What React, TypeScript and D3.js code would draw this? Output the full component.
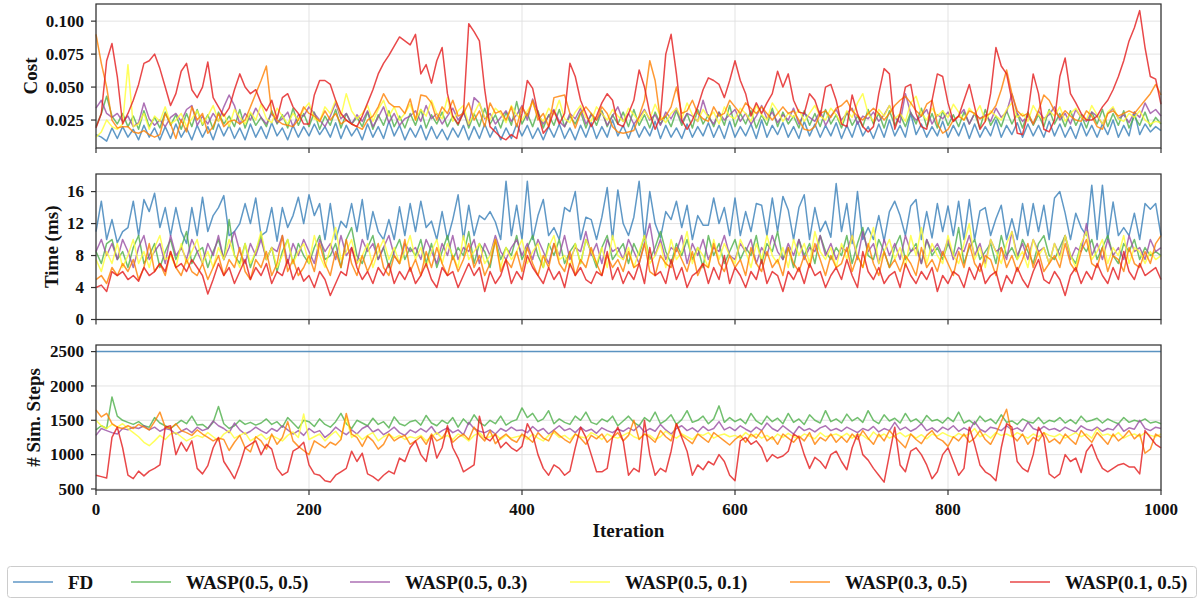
import React from "react";
import * as d3 from "d3";

const iterations = d3.range(0, 1001, 5);
const xTicks = [0, 200, 400, 600, 800, 1000];
const costTicks = [0.025, 0.05, 0.075, 0.1];
const timeTicks = [0, 4, 8, 12, 16];
const stepTicks = [500, 1000, 1500, 2000, 2500];

const seriesNames = ["FD", "WASP(0.5, 0.5)", "WASP(0.5, 0.3)", "WASP(0.5, 0.1)", "WASP(0.3, 0.5)", "WASP(0.1, 0.5)"];
const seriesColors = ["#377eb8", "#4daf4a", "#984ea3", "#ffff33", "#ff7f00", "#e41a1c"];

// ---------- Cost ----------
const costFD = [
  .014,.012,.009,.019,.011,.020,.012,.018,.010,.021,.012,.019,.010,.020,.011,.022,.012,.019,.010,.021,
  .012,.020,.010,.022,.013,.021,.011,.019,.010,.022,.012,.020,.011,.023,.013,.019,.010,.021,.012,.020,
  .013,.022,.014,.020,.012,.023,.011,.021,.013,.019,.010,.022,.012,.020,.011,.024,.013,.021,.010,.019,
  .012,.021,.010,.020,.011,.018,.010,.019,.012,.021,.010,.020,.011,.022,.012,.020,.010,.019,.011,.022,
  .013,.021,.011,.019,.010,.020,.012,.022,.011,.019,.010,.021,.012,.023,.011,.020,.012,.025,.013,.021,
  .011,.022,.012,.020,.013,.024,.011,.021,.012,.019,.011,.022,.012,.020,.013,.023,.012,.021,.011,.024,
  .012,.020,.013,.022,.011,.025,.012,.021,.014,.023,.012,.020,.011,.024,.013,.022,.012,.021,.013,.023,
  .011,.021,.012,.024,.013,.020,.011,.022,.012,.025,.013,.021,.012,.030,.014,.022,.012,.020,.013,.024,
  .012,.021,.013,.023,.011,.022,.012,.020,.013,.025,.012,.021,.014,.023,.012,.022,.013,.021,.012,.024,
  .013,.022,.012,.020,.011,.023,.013,.021,.012,.022,.014,.025,.012,.021,.013,.031,.014,.022,.016,.020,
  .017];
const costW55 = [
  .020,.030,.043,.028,.022,.030,.020,.028,.018,.032,.020,.027,.019,.031,.021,.029,.018,.030,.020,.033,
  .021,.029,.018,.031,.022,.028,.020,.033,.019,.030,.021,.027,.020,.032,.022,.029,.019,.034,.021,.030,
  .020,.031,.018,.028,.021,.033,.019,.030,.022,.027,.020,.031,.018,.029,.021,.032,.020,.028,.019,.030,
  .021,.033,.019,.029,.022,.031,.020,.028,.021,.032,.019,.030,.020,.034,.022,.029,.019,.031,.021,.039,
  .022,.030,.020,.032,.019,.029,.021,.033,.020,.028,.022,.031,.019,.030,.021,.032,.020,.029,.022,.031,
  .020,.033,.021,.029,.019,.031,.022,.028,.020,.032,.021,.030,.019,.033,.022,.029,.020,.031,.021,.036,
  .020,.030,.022,.032,.019,.029,.021,.034,.020,.031,.022,.028,.019,.032,.021,.030,.020,.033,.022,.029,
  .019,.031,.021,.028,.020,.033,.022,.030,.019,.032,.021,.029,.020,.031,.022,.034,.020,.030,.019,.032,
  .021,.029,.020,.031,.022,.030,.019,.033,.021,.028,.020,.032,.022,.030,.019,.031,.021,.029,.020,.033,
  .022,.030,.020,.032,.021,.029,.019,.031,.022,.033,.020,.030,.021,.032,.019,.028,.021,.031,.020,.027,
  .022];
const costW53 = [
  .034,.040,.030,.027,.030,.024,.028,.020,.023,.038,.026,.021,.025,.020,.027,.030,.024,.033,.036,.021,
  .028,.022,.030,.024,.035,.044,.036,.022,.030,.025,.034,.027,.022,.030,.023,.026,.031,.020,.029,.028,
  .035,.030,.025,.020,.028,.038,.026,.030,.022,.029,.024,.032,.020,.027,.035,.023,.030,.021,.026,.028,
  .032,.024,.036,.026,.030,.022,.028,.034,.025,.031,.021,.042,.038,.026,.030,.022,.027,.032,.024,.029,
  .036,.025,.041,.030,.022,.028,.033,.024,.020,.030,.026,.034,.022,.029,.025,.031,.021,.028,.035,.024,
  .030,.022,.027,.033,.025,.029,.021,.031,.026,.034,.023,.030,.028,.024,.040,.027,.022,.031,.025,.029,
  .033,.024,.030,.022,.028,.036,.026,.031,.023,.029,.025,.034,.022,.030,.027,.024,.032,.021,.028,.033,
  .025,.030,.034,.022,.028,.026,.031,.024,.029,.036,.027,.023,.045,.030,.025,.028,.033,.022,.029,.026,
  .031,.024,.028,.033,.022,.030,.026,.029,.024,.034,.027,.031,.045,.030,.024,.028,.022,.032,.026,.029,
  .035,.025,.030,.022,.033,.027,.024,.031,.028,.022,.030,.034,.026,.029,.023,.031,.027,.038,.030,.033,
  .028];
const costW51 = [
  .012,.016,.025,.020,.018,.022,.067,.020,.022,.030,.018,.028,.024,.035,.022,.025,.030,.020,.026,.032,
  .022,.028,.036,.024,.030,.020,.033,.027,.022,.031,.025,.037,.026,.023,.034,.028,.022,.030,.025,.033,
  .038,.026,.024,.035,.030,.040,.028,.045,.032,.026,.030,.036,.024,.033,.040,.028,.035,.025,.030,.037,
  .025,.033,.028,.040,.030,.026,.042,.024,.032,.036,.022,.030,.038,.027,.025,.034,.030,.023,.036,.029,
  .025,.032,.038,.028,.024,.034,.029,.040,.026,.023,.031,.036,.027,.024,.035,.030,.025,.033,.028,.024,
  .034,.029,.024,.032,.026,.037,.028,.023,.030,.034,.026,.038,.029,.024,.033,.027,.031,.022,.035,.028,
  .026,.034,.030,.024,.036,.029,.025,.038,.032,.024,.030,.027,.033,.024,.030,.036,.028,.025,.034,.029,
  .022,.032,.027,.038,.045,.030,.024,.033,.028,.036,.026,.030,.024,.038,.043,.030,.025,.034,.028,.032,
  .027,.037,.031,.025,.034,.029,.036,.024,.032,.028,.025,.033,.038,.027,.030,.024,.036,.029,.025,.032,
  .028,.035,.024,.030,.034,.027,.025,.036,.029,.022,.031,.035,.026,.024,.030,.027,.032,.025,.022,.024,
  .023];
const costW35 = [
  .090,.068,.050,.025,.019,.020,.020,.016,.015,.017,.014,.012,.014,.030,.022,.011,.025,.016,.035,.025,
  .030,.015,.020,.030,.020,.024,.025,.022,.025,.035,.045,.055,.066,.030,.025,.022,.021,.020,.025,.035,
  .030,.028,.024,.032,.025,.030,.022,.025,.022,.020,.018,.025,.028,.035,.045,.038,.035,.035,.030,.041,
  .025,.044,.043,.038,.025,.035,.030,.040,.028,.030,.038,.025,.032,.020,.038,.030,.032,.025,.035,.020,
  .035,.028,.040,.025,.030,.020,.042,.043,.044,.030,.019,.030,.035,.030,.025,.035,.030,.020,.016,.015,
  .016,.017,.028,.040,.070,.055,.025,.028,.035,.050,.030,.032,.040,.030,.026,.024,.035,.028,.030,.040,
  .035,.030,.038,.034,.030,.035,.030,.025,.030,.035,.030,.032,.025,.018,.017,.020,.030,.032,.027,.034,
  .036,.040,.032,.028,.025,.030,.034,.030,.025,.030,.036,.040,.043,.038,.032,.028,.037,.040,.022,.015,
  .018,.025,.028,.025,.032,.030,.026,.028,.030,.036,.048,.063,.045,.032,.028,.030,.022,.032,.044,.040,
  .032,.027,.032,.028,.025,.024,.032,.028,.020,.018,.030,.032,.028,.030,.032,.030,.035,.040,.045,.052,
  .044];
const costW15 = [
  .019,.030,.070,.083,.058,.022,.030,.040,.052,.068,.070,.075,.064,.050,.036,.045,.062,.068,.048,.042,
  .050,.069,.042,.035,.028,.034,.048,.060,.050,.045,.048,.038,.032,.040,.026,.042,.045,.035,.030,.022,
  .022,.044,.055,.055,.052,.040,.030,.025,.022,.020,.028,.038,.048,.060,.068,.074,.081,.088,.085,.082,
  .090,.060,.067,.053,.070,.080,.045,.028,.022,.030,.098,.092,.085,.048,.020,.016,.012,.010,.014,.011,
  .030,.055,.049,.030,.015,.020,.032,.022,.030,.068,.058,.040,.030,.020,.028,.038,.045,.040,.022,.020,
  .030,.040,.063,.050,.030,.018,.028,.075,.090,.060,.025,.018,.025,.035,.048,.057,.055,.052,.042,.055,
  .070,.055,.045,.028,.038,.030,.038,.045,.062,.050,.060,.040,.031,.030,.045,.040,.028,.050,.052,.040,
  .022,.020,.044,.030,.020,.016,.020,.045,.064,.060,.018,.030,.050,.052,.030,.020,.018,.040,.060,.058,
  .038,.024,.028,.040,.052,.035,.018,.024,.045,.080,.066,.060,.040,.015,.014,.030,.060,.045,.018,.016,
  .025,.058,.072,.045,.038,.030,.025,.025,.028,.035,.040,.048,.058,.070,.085,.095,.108,.080,.058,.056,
  .037];

// ---------- Time (ms) ----------
const timeFD = [
  11.0,14.8,10.0,12.5,9.6,11.0,11.5,14.8,10.5,15.0,13.5,15.8,11.5,14.0,10.5,14.0,11.0,9.5,14.0,10.5,
  15.3,11.0,13.0,14.0,15.5,10.5,11.0,12.0,14.5,12.0,15.2,10.5,11.0,14.0,9.8,14.0,11.5,13.0,15.3,12.0,
  15.6,13.0,14.5,10.0,14.5,10.0,12.3,11.5,14.5,11.0,15.0,10.0,13.5,11.0,10.0,12.5,10.0,14.1,10.5,14.5,
  11.0,14.8,11.5,12.3,10.0,13.5,10.0,12.5,15.6,10.0,14.3,10.5,13.0,12.5,13.5,12.2,10.0,17.3,10.5,14.3,
  10.0,17.3,10.0,13.0,15.0,10.5,11.5,10.0,14.0,13.5,16.0,10.0,12.8,12.5,10.0,12.8,16.5,10.0,16.2,12.0,
  10.5,12.8,17.3,10.0,16.0,12.0,10.2,13.5,12.5,14.8,11.5,14.3,10.0,13.0,11.8,11.8,15.2,12.0,14.0,10.5,
  15.2,10.5,13.5,11.0,14.5,14.3,10.5,15.2,11.0,15.4,13.7,10.0,14.0,15.6,10.0,14.0,11.0,12.3,10.3,17.0,
  11.0,14.5,9.5,16.0,10.0,11.5,10.0,13.0,9.8,13.5,14.8,13.0,10.5,14.2,15.0,10.0,13.5,10.2,14.5,11.0,
  14.2,10.5,14.8,10.0,15.0,10.0,13.6,14.0,10.5,12.6,14.3,10.0,12.6,10.0,14.5,10.5,14.5,11.0,14.3,10.0,
  15.2,16.0,13.3,10.0,13.3,11.5,10.5,16.8,10.0,16.8,10.0,14.7,10.5,11.5,10.5,13.3,10.0,14.5,13.8,14.5,
  10.5];
const timeW55 = [
  8.5,7.0,9.5,10.0,7.5,8.5,6.5,9.0,10.5,7.0,8.0,9.5,6.5,8.5,10.0,7.5,9.0,11.0,7.0,8.5,
  9.0,6.5,8.5,10.0,7.5,12.5,8.0,7.0,9.5,6.5,8.5,10.5,7.5,9.0,6.0,8.5,10.0,7.0,9.5,8.0,
  7.0,9.0,10.5,7.5,8.0,9.5,6.5,10.0,11.5,8.0,7.0,9.0,10.5,7.5,9.0,6.5,8.5,10.0,7.5,9.0,
  8.0,10.0,7.0,9.5,6.5,8.5,10.5,7.5,9.0,8.0,11.0,7.0,9.5,8.5,6.5,10.0,7.5,9.0,8.0,10.5,
  7.5,9.0,10.5,8.0,6.5,9.5,8.0,10.0,7.0,8.5,9.5,7.0,10.0,8.5,6.5,9.0,10.5,7.5,8.5,9.5,
  7.0,9.5,8.0,10.5,7.5,9.0,11.0,8.5,7.0,9.5,8.0,10.0,7.5,9.0,6.5,10.5,8.0,9.5,7.0,8.5,
  10.0,7.5,9.0,8.0,10.5,7.0,9.5,8.5,11.0,7.5,9.0,6.5,10.0,8.0,9.5,7.0,10.5,8.5,7.5,9.0,
  8.0,10.5,7.0,9.5,11.5,8.0,7.5,10.0,8.5,6.5,9.0,10.5,7.5,8.5,9.5,7.0,10.0,8.0,9.0,7.5,
  9.5,8.0,11.5,7.0,9.0,10.0,7.5,8.5,9.5,7.0,10.5,8.0,9.0,7.5,10.0,8.5,7.0,9.5,10.5,8.0,
  7.5,9.0,10.5,8.0,7.0,9.5,8.5,10.0,7.5,9.0,10.5,8.0,7.0,9.5,8.5,10.0,7.5,9.0,8.0,8.5,
  8.0];
const timeW53 = [
  8.5,10.0,8.0,9.5,7.5,10.0,8.5,6.5,9.0,10.5,7.5,8.5,9.5,7.0,10.5,8.0,9.0,7.5,10.0,8.5,
  7.0,9.5,8.0,10.5,7.5,9.0,11.0,8.5,7.0,9.5,8.0,10.0,7.5,9.0,8.5,10.5,7.0,9.5,8.0,10.0,
  8.5,7.0,10.0,8.5,9.5,7.5,10.5,8.0,9.0,7.0,10.0,8.5,9.5,7.5,9.0,10.5,8.0,7.0,9.5,8.5,
  9.0,7.5,10.0,8.5,7.0,9.5,8.0,10.5,7.5,9.0,8.5,10.0,7.0,9.5,8.0,10.5,8.5,7.5,9.0,10.0,
  8.0,9.5,7.5,10.0,8.5,7.0,9.5,8.0,10.5,7.5,9.0,8.5,11.0,8.0,9.5,7.0,10.0,8.5,9.0,7.5,
  10.0,8.5,7.0,9.5,12.0,8.0,10.0,7.5,9.0,8.5,10.5,7.0,9.5,8.0,10.0,7.5,9.0,8.5,10.5,8.0,
  7.5,9.5,8.5,10.0,7.0,9.0,8.0,10.5,8.5,7.5,9.5,8.0,10.0,7.5,9.0,8.5,10.5,8.0,9.5,7.5,
  9.0,8.5,10.5,7.5,11.0,8.5,9.5,7.0,10.0,8.0,9.5,7.5,10.5,8.5,9.0,7.0,10.0,8.5,9.5,8.0,
  10.0,7.5,9.0,8.5,10.5,8.0,9.5,7.0,10.0,8.5,9.0,7.5,11.0,8.0,9.5,7.5,10.0,8.5,9.0,7.0,
  9.5,8.0,10.5,7.5,9.0,8.5,12.0,8.0,9.5,7.5,10.0,8.0,9.0,7.5,10.5,8.5,9.0,7.5,10.0,8.5,
  9.0];
const timeW51 = [
  7.5,6.0,8.5,7.0,9.5,6.5,8.0,10.0,7.0,8.5,6.5,9.0,10.5,7.5,8.0,6.5,9.5,7.0,8.5,10.0,
  7.0,8.5,6.5,9.0,7.5,10.0,8.0,6.5,9.5,7.0,8.5,11.0,7.5,9.0,6.5,8.0,10.0,7.0,8.5,9.5,
  7.0,10.5,8.0,6.5,9.0,11.5,7.5,8.5,10.0,7.0,8.0,9.5,6.5,8.5,10.0,7.5,9.0,7.0,8.5,10.5,
  7.5,9.0,6.5,8.5,10.0,7.0,9.5,8.0,6.5,10.5,7.5,8.5,9.5,7.0,8.0,10.0,6.5,9.0,7.5,8.5,
  10.0,7.0,8.5,9.5,6.5,9.0,10.5,7.5,8.0,6.5,9.5,7.0,10.0,8.5,7.0,9.0,6.5,10.5,8.0,7.5,
  9.0,6.5,8.5,10.5,7.0,8.0,9.5,6.5,10.0,7.5,8.5,11.0,7.0,9.0,8.0,6.5,10.0,7.5,9.5,8.0,
  7.0,10.0,8.5,6.5,9.5,7.5,10.5,8.0,7.0,9.0,6.5,10.0,8.0,9.5,7.0,11.0,8.5,7.5,9.0,6.5,
  9.5,7.5,10.5,8.0,6.5,9.0,11.5,7.0,8.5,10.0,7.5,9.0,6.5,10.5,8.0,11.5,7.0,9.5,8.0,7.0,
  10.5,8.0,7.0,9.5,12.0,7.5,9.0,6.5,10.0,8.5,7.0,9.5,11.0,7.5,8.5,6.5,10.0,8.0,9.0,7.0,
  9.5,7.5,10.5,8.0,6.5,9.5,11.0,7.5,8.5,10.0,7.0,9.0,8.0,10.5,7.0,9.0,8.5,7.0,8.5,7.5,
  8.0];
const timeW35 = [
  5.0,5.5,4.5,6.5,5.5,7.0,6.0,7.5,5.0,6.5,9.5,6.0,7.0,5.5,8.5,6.5,5.5,7.5,6.0,5.5,
  7.0,5.0,6.5,8.0,5.5,7.5,6.5,9.0,6.0,5.0,7.5,6.5,8.5,5.5,7.0,10.5,6.0,7.5,5.5,6.5,
  8.0,6.0,9.5,7.0,5.5,8.5,6.5,10.0,7.0,5.5,8.0,6.0,7.5,9.5,6.5,5.5,8.0,7.0,10.0,6.0,
  7.5,5.5,8.5,6.5,9.0,7.0,5.5,8.0,6.0,7.5,9.5,6.5,8.0,5.5,7.0,10.0,6.0,7.5,6.5,8.5,
  6.0,9.0,7.0,5.5,8.0,6.5,9.5,7.0,6.0,8.5,5.5,7.5,6.5,9.0,7.0,5.5,8.0,6.5,7.5,6.0,
  8.5,6.5,7.0,9.5,6.0,5.5,8.0,7.0,6.5,9.0,7.5,6.0,8.5,5.5,7.0,6.5,9.5,7.0,6.0,8.0,
  6.5,7.5,5.5,9.0,7.0,6.0,8.5,6.5,7.5,5.5,9.0,7.0,6.0,8.0,6.5,9.5,7.5,5.5,8.0,6.5,
  7.0,9.0,6.0,8.0,6.5,9.5,7.0,5.5,8.5,6.5,7.5,6.0,8.0,7.0,5.5,9.0,6.5,7.5,6.0,8.5,
  7.0,5.5,8.5,6.5,9.5,7.0,6.0,8.0,7.5,5.5,9.0,6.5,8.0,6.0,7.5,9.5,6.5,8.5,6.0,7.0,
  8.0,6.5,9.5,7.0,6.0,8.5,10.0,7.0,6.5,9.0,6.0,8.0,7.5,6.0,9.0,7.0,6.5,8.5,7.0,9.5,
  10.5];
const timeW15 = [
  4.0,4.3,3.5,6.0,5.5,6.0,5.0,5.5,4.8,6.5,5.5,6.0,7.0,6.0,8.5,6.5,7.0,6.0,7.5,6.5,
  5.5,3.2,5.0,7.0,5.5,6.5,4.5,6.0,7.5,5.0,6.5,5.5,7.0,4.5,6.0,5.5,7.5,5.0,6.5,4.8,
  5.5,4.0,6.0,5.0,3.0,4.5,6.0,5.5,9.0,6.5,5.0,6.0,4.5,6.5,5.5,7.0,4.5,6.0,5.0,6.5,
  4.5,5.5,7.0,5.0,4.0,6.5,5.5,6.0,4.0,5.5,7.0,5.5,6.5,3.5,6.0,4.5,5.5,7.5,4.5,6.0,
  5.0,8.0,6.5,5.5,4.5,6.5,5.0,6.0,4.0,7.0,5.5,6.5,5.0,4.5,6.0,5.5,8.5,5.0,6.5,4.5,
  6.0,5.0,7.0,4.5,9.0,5.5,6.0,4.5,7.5,5.0,6.5,4.0,5.5,6.0,7.0,4.5,6.5,5.0,8.0,4.5,
  6.5,5.5,4.0,6.0,5.0,7.5,4.5,6.0,5.5,3.5,6.0,5.0,6.5,4.5,7.0,5.5,6.0,4.0,5.5,6.5,
  5.0,7.5,5.5,4.0,8.5,6.0,5.0,6.5,4.5,5.5,6.0,4.0,7.0,5.5,4.5,6.0,5.0,6.5,3.5,5.5,
  4.5,6.0,5.5,4.0,6.5,5.0,7.0,4.5,5.5,6.0,3.5,5.5,4.5,6.5,5.0,4.0,6.0,7.5,5.0,4.5,
  6.0,5.0,3.0,5.5,6.5,4.5,6.0,5.0,7.0,5.5,4.5,6.5,5.0,8.5,6.0,5.0,7.0,5.5,6.0,6.5,
  5.0];

// ---------- # Sim. Steps ----------
const stepsFDIter = [0, 1000];
const stepsFD = [2500, 2500];
const stepsW55 = [
  1360,1420,1380,1840,1560,1500,1470,1440,1480,1420,1400,1540,1460,1420,1380,1440,1500,1450,1560,1430,
  1440,1380,1470,1700,1450,1380,1420,1500,1440,1470,1430,1460,1520,1440,1480,1400,1540,1460,1380,1500,
  1480,1410,1520,1440,1400,1480,1600,1450,1380,1500,1460,1420,1530,1440,1480,1390,1550,1450,1420,1480,
  1500,1430,1570,1460,1420,1500,1450,1540,1400,1520,1440,1580,1470,1420,1500,1450,1560,1430,1480,1510,
  1680,1540,1600,1480,1520,1640,1450,1520,1470,1440,1560,1500,1620,1470,1440,1520,1480,1560,1420,1490,
  1560,1470,1420,1540,1480,1620,1450,1500,1580,1440,1510,1640,1470,1500,1560,1450,1520,1710,1470,1540,
  1480,1520,1450,1600,1490,1440,1560,1480,1530,1450,1600,1470,1520,1440,1580,1500,1460,1640,1480,1520,
  1460,1590,1490,1540,1470,1640,1500,1450,1580,1490,1530,1460,1600,1480,1520,1450,1570,1490,1510,1460,
  1540,1480,1620,1460,1500,1440,1560,1480,1520,1450,1580,1470,1490,1440,1520,1480,1460,1540,1450,1500,
  1480,1540,1460,1510,1450,1560,1480,1500,1530,1460,1520,1480,1450,1540,1470,1500,1480,1520,1460,1480,
  1450];
const stepsW53 = [
  1280,1380,1350,1320,1300,1380,1360,1400,1380,1420,1360,1400,1340,1380,1360,1300,1340,1380,1320,1400,
  1350,1380,1490,1420,1380,1320,1460,1360,1300,1340,1400,1350,1310,1380,1340,1420,1360,1300,1350,1280,
  1380,1320,1350,1250,1310,1400,1340,1290,1360,1300,1380,1420,1330,1370,1290,1340,1400,1320,1280,1360,
  1320,1380,1330,1410,1300,1350,1390,1320,1360,1290,1470,1380,1340,1320,1360,1300,1380,1340,1400,1350,
  1360,1320,1410,1340,1380,1300,1360,1420,1350,1380,1320,1400,1340,1370,1310,1390,1350,1320,1370,1340,
  1390,1350,1420,1330,1380,1340,1440,1360,1300,1380,1420,1350,1390,1330,1410,1350,1380,1480,1360,1400,
  1350,1420,1370,1330,1400,1350,1460,1380,1340,1420,1360,1300,1410,1350,1380,1330,1390,1420,1350,1380,
  1340,1400,1360,1320,1380,1350,1410,1330,1380,1350,1470,1360,1400,1340,1380,1450,1350,1390,1330,1400,
  1360,1420,1340,1390,1350,1480,1370,1330,1400,1380,1350,1420,1360,1390,1340,1470,1380,1350,1410,1360,
  1380,1340,1400,1360,1330,1420,1370,1350,1400,1340,1380,1360,1450,1340,1390,1370,1500,1380,1350,1400,
  1380];
const stepsW51 = [
  1500,1420,1380,1440,1400,1450,1380,1320,1260,1180,1130,1200,1280,1220,1300,1320,1260,1200,1240,1280,
  1250,1320,1260,1200,1300,1350,1240,1280,1320,1200,1250,1300,1220,1280,1240,1200,1280,1330,1250,1590,
  1220,1260,1300,1200,1280,1340,1240,1540,1250,1300,1220,1280,1320,1200,1260,1300,1240,1280,1220,1260,
  1240,1280,1200,1260,1320,1240,1280,1220,1300,1260,1200,1280,1320,1240,1260,1300,1220,1280,1240,1260,
  1280,1220,1300,1240,1200,1280,1320,1250,1280,1220,1300,1260,1240,1320,1280,1220,1300,1260,1240,1280,
  1320,1260,1230,1300,1280,1220,1260,1340,1280,1240,1300,1260,1220,1300,1280,1320,1240,1280,1300,1260,
  1280,1240,1320,1260,1300,1240,1280,1220,1300,1250,1310,1260,1240,1300,1270,1230,1320,1260,1280,1300,
  1260,1310,1240,1300,1280,1220,1330,1260,1300,1240,1280,1320,1260,1300,1240,1290,1230,1300,1270,1320,
  1280,1250,1310,1270,1300,1380,1260,1300,1240,1320,1280,1300,1260,1320,1280,1240,1300,1260,1320,1280,
  1260,1300,1240,1280,1320,1260,1300,1240,1380,1280,1300,1260,1320,1240,1280,1300,1260,1320,1280,1260,
  1300];
const stepsW35 = [
  1650,1550,1600,1450,1400,1380,1420,1380,1440,1400,1360,1480,1620,1400,1380,1450,1350,1320,1280,1360,
  1300,1250,1200,1240,1220,1060,1180,1280,1100,1040,1260,1200,1080,1300,1150,1250,1480,1200,1120,1060,
  1000,1200,1150,1100,1180,1140,1220,1600,1300,1250,1120,1270,1200,1080,1150,1300,1200,1250,1280,1150,
  1200,1260,1150,1300,1200,1240,1360,1180,1250,1300,1220,1400,1280,1200,1350,1160,1240,1300,1220,1180,
  1300,1250,1180,1320,1240,1200,1350,1280,1220,1170,1300,1240,1150,1280,1230,1300,1180,1250,1320,1200,
  1280,1500,1220,1300,1250,1180,1350,1260,1200,1450,1280,1220,1160,1300,1240,1180,1320,1260,1200,1140,
  1220,1280,1180,1300,1240,1350,1200,1260,1150,1300,1240,1180,1270,1200,1320,1150,1250,1200,1300,1180,
  1260,1180,1300,1220,1350,1240,1150,1300,1200,1350,1260,1180,1100,1300,1220,1160,1280,1350,1240,1200,
  1120,1260,1200,1300,1180,1240,1350,1220,1150,1300,1480,1660,1280,1200,1300,1150,1250,1200,1320,1180,
  1230,1160,1300,1220,1150,1350,1260,1180,1320,1240,1150,1300,1200,1260,1350,1230,1300,1020,1080,1300,
  1250];
const stepsW15 = [
  700,680,660,1250,1400,1100,700,650,760,690,760,800,850,1400,1420,1000,1180,1050,1200,800,
  720,840,1100,1250,900,780,650,850,1100,1150,1200,1000,1150,1080,800,700,750,1050,1100,1180,
  850,720,700,620,600,700,750,800,1050,900,1020,720,680,620,700,760,720,950,900,1100,
  1200,1000,900,1280,950,1100,1420,1100,950,750,800,850,1560,1250,1200,1300,1100,1180,1100,1050,
  1120,1450,1300,1000,800,700,850,800,700,760,1100,1400,1250,1000,750,750,800,1250,1400,1200,
  700,800,750,1500,1000,700,800,750,1050,1450,1250,1050,700,850,780,900,850,1000,900,700,
  620,1200,1250,1150,1200,1100,900,1000,950,980,1050,1300,1250,1000,800,960,900,800,1000,1050,
  900,780,1100,1300,1000,920,800,700,600,1000,1400,850,750,1050,1100,1000,850,650,750,1000,
  1100,900,700,800,1400,1150,850,750,700,620,1100,1450,1400,900,800,750,1000,1400,1250,720,
  660,720,1000,900,950,740,1050,1150,950,800,750,800,850,870,820,820,720,1350,1250,1150,
  1100];

const W = 1198;
const H = 599;
const X0 = 96;
const X1 = 1161;
const FONT = "'Liberation Serif', 'Times New Roman', Times, serif";

const x = d3.scaleLinear().domain([0, 1000]).range([X0, X1]);

type Panel = {
  top: number;
  bottom: number;
  domain: [number, number];
  ticks: number[];
  fmt: (v: number) => string;
  label: string;
  labelX: number;
  series: { xs: number[]; ys: number[] }[];
  showX: boolean;
};

const panels: Panel[] = [
  {
    top: 4, bottom: 148, domain: [0.0038, 0.113], ticks: costTicks, fmt: d3.format(".3f"),
    label: "Cost", labelX: 37, showX: false,
    series: [costFD, costW55, costW53, costW51, costW35, costW15].map((ys) => ({ xs: iterations, ys })),
  },
  {
    top: 174, bottom: 319.5, domain: [0, 18.2], ticks: timeTicks, fmt: d3.format("d"),
    label: "Time (ms)", labelX: 58, showX: false,
    series: [timeFD, timeW55, timeW53, timeW51, timeW35, timeW15].map((ys) => ({ xs: iterations, ys })),
  },
  {
    top: 345, bottom: 490, domain: [485, 2596], ticks: stepTicks, fmt: d3.format("d"),
    label: "# Sim. Steps", labelX: 40, showX: true,
    series: [
      { xs: stepsFDIter, ys: stepsFD },
      ...[stepsW55, stepsW53, stepsW51, stepsW35, stepsW15].map((ys) => ({ xs: iterations, ys })),
    ],
  },
];

function PanelView({ p }: { p: Panel }) {
  const y = d3.scaleLinear().domain(p.domain).range([p.bottom, p.top]);
  const mid = (p.top + p.bottom) / 2;
  return (
    <g>
      {/* grid */}
      {xTicks.map((t) => (
        <line key={"gx" + t} x1={x(t)} x2={x(t)} y1={p.top} y2={p.bottom} stroke="#e0e0e0" strokeWidth={0.9} />
      ))}
      {p.ticks.map((t) => (
        <line key={"gy" + t} x1={X0} x2={X1} y1={y(t)} y2={y(t)} stroke="#e0e0e0" strokeWidth={0.9} />
      ))}
      {/* series */}
      {p.series.map((s, i) => {
        const line = d3
          .line<number>()
          .x((_, k) => x(s.xs[k]))
          .y((v) => y(v));
        return (
          <path key={i} d={line(s.ys) || ""} fill="none" stroke={seriesColors[i]} strokeOpacity={0.8}
            strokeWidth={1.5} strokeLinejoin="round" />
        );
      })}
      {/* frame */}
      <rect x={X0} y={p.top} width={X1 - X0} height={p.bottom - p.top} fill="none" stroke="#333" strokeWidth={1.25} />
      {/* y ticks */}
      {p.ticks.map((t) => (
        <g key={"ty" + t}>
          <line x1={X0 - 5} x2={X0} y1={y(t)} y2={y(t)} stroke="#333" strokeWidth={1.2} />
          <text x={X0 - 12} y={y(t)} dy="0.34em" textAnchor="end" fontFamily={FONT} fontWeight="bold" fontSize={17} fill="#111">
            {p.fmt(t)}
          </text>
        </g>
      ))}
      {/* x ticks */}
      {xTicks.map((t) => (
        <g key={"tx" + t}>
          <line x1={x(t)} x2={x(t)} y1={p.bottom} y2={p.bottom + 5} stroke="#333" strokeWidth={1.2} />
          {p.showX && (
            <text x={x(t)} y={p.bottom + 25} textAnchor="middle" fontFamily={FONT} fontWeight="bold" fontSize={17} fill="#111">
              {t}
            </text>
          )}
        </g>
      ))}
      <text transform={`translate(${p.labelX},${mid}) rotate(-90)`} textAnchor="middle" fontFamily={FONT}
        fontWeight="bold" fontSize={19} fill="#111">
        {p.label}
      </text>
    </g>
  );
}

const legendLineX = [13, 131, 350, 570, 790, 1010];

export default function App() {
  return (
    <svg width={W} height={H} style={{ position: "absolute", left: 0, top: 0, background: "#fff" }}>
      <rect x={0} y={0} width={W} height={H} fill="#fff" />
      {panels.map((p, i) => (
        <PanelView key={i} p={p} />
      ))}
      <text x={(X0 + X1) / 2} y={537} textAnchor="middle" fontFamily={FONT} fontWeight="bold" fontSize={19} fill="#111">
        Iteration
      </text>
      {/* legend */}
      <rect x={7.5} y={566.5} width={1189} height={31} rx={3} fill="#fff" stroke="#cccccc" strokeWidth={1} />
      {seriesNames.map((n, i) => (
        <g key={n}>
          <line x1={legendLineX[i]} x2={legendLineX[i] + 40} y1={582} y2={582} stroke={seriesColors[i]} strokeOpacity={0.8} strokeWidth={1.5} />
          <text x={legendLineX[i] + 55} y={588.5} fontFamily={FONT} fontWeight="bold" fontSize={19} fill="#111">
            {n}
          </text>
        </g>
      ))}
    </svg>
  );
}
